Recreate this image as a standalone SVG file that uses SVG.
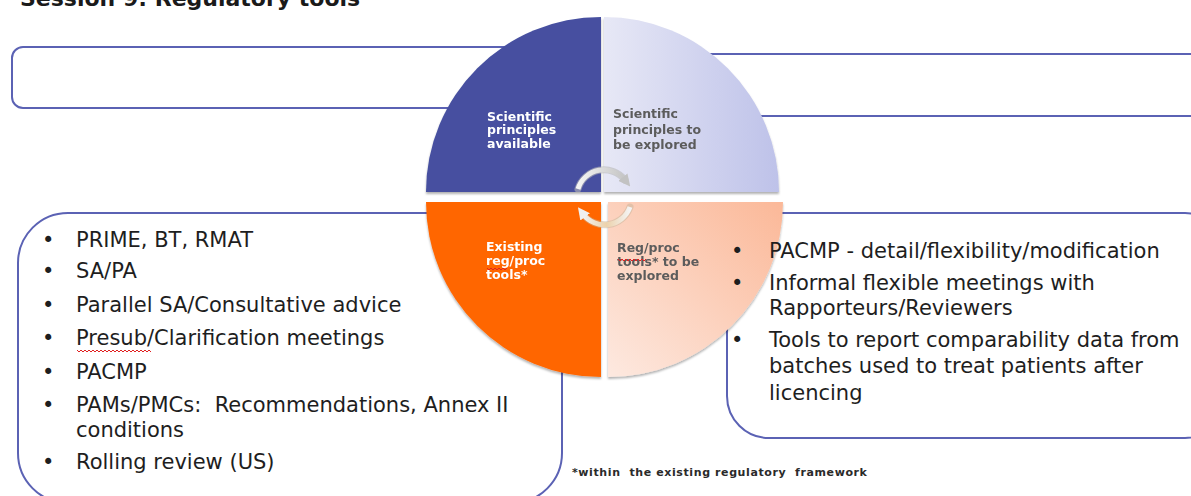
<svg xmlns="http://www.w3.org/2000/svg" width="1191" height="496" viewBox="0 0 1191 496">
  <defs>
    <style>
      .box { fill: #ffffff; stroke: #5b62b4; stroke-width: 2; }
      .title { font-family: "DejaVu Sans", Verdana, sans-serif; font-weight: bold; font-size: 22px; fill: #1a1a1a; }
      .item { font-family: "DejaVu Sans", Verdana, sans-serif; font-size: 21px; fill: #1e1e1e; white-space: pre; }
      .qlabel { font-family: "DejaVu Sans", Verdana, sans-serif; font-weight: bold; font-size: 12.5px; }
      .light { fill: #ffffff; }
      .dark { fill: #5c5c5c; }
      .note { font-family: "DejaVu Sans", Verdana, sans-serif; font-weight: bold; font-size: 11px; letter-spacing: 0.6px; fill: #2a2a2a; white-space: pre; }
      .squiggle { fill: none; stroke: #e02020; stroke-width: 1; }
    </style>
    <linearGradient id="gradBlueLight" x1="0" y1="0" x2="1" y2="0">
      <stop offset="0" stop-color="#e7e8f6"/>
      <stop offset="1" stop-color="#bec2e9"/>
    </linearGradient>
    <linearGradient id="gradPeach" x1="0" y1="1" x2="1" y2="0">
      <stop offset="0" stop-color="#fde9e0"/>
      <stop offset="1" stop-color="#fbb898"/>
    </linearGradient>
    <linearGradient id="gradArrowTop" x1="0" y1="0" x2="1" y2="0">
      <stop offset="0" stop-color="#f4f4f4"/>
      <stop offset="1" stop-color="#c4c4c4"/>
    </linearGradient>
    <linearGradient id="gradArrowBottom" x1="0" y1="0" x2="1" y2="0">
      <stop offset="0" stop-color="#f2f2f2"/>
      <stop offset="0.5" stop-color="#ecd2ac"/>
      <stop offset="1" stop-color="#f4f4f4"/>
    </linearGradient>
    <filter id="quadShadow" x="-10%" y="-10%" width="120%" height="125%">
      <feDropShadow dx="0" dy="2" stdDeviation="1.2" flood-color="#000000" flood-opacity="0.3"/>
    </filter>
    <marker id="headTop" viewBox="0 0 10 10" refX="3" refY="5" markerWidth="12" markerHeight="12" markerUnits="userSpaceOnUse" orient="auto">
      <path d="M0,0 L10,5 L0,10 Z" fill="#c2c2c2"/>
    </marker>
    <marker id="headBottom" viewBox="0 0 10 10" refX="3" refY="5" markerWidth="12" markerHeight="12" markerUnits="userSpaceOnUse" orient="auto">
      <path d="M0,0 L10,5 L0,10 Z" fill="#f0f0f0"/>
    </marker>
  </defs>

  <!-- heading -->
  <text class="title" x="20" y="6">Session 9: Regulatory  tools</text>

  <!-- upper text panels (ends tucked behind the wheel) -->
  <g id="panel-top-left">
    <rect class="box" x="12" y="47" width="575" height="61" rx="11" ry="11"/>
  </g>
  <g id="panel-top-right">
    <rect class="box" x="625" y="54" width="600" height="62" rx="11" ry="11"/>
  </g>

  <!-- lower list panels: frames -->
  <g id="panel-existing">
    <rect class="box" x="18" y="213" width="544" height="290" rx="50" ry="50"/>
    <text class="item" x="42" y="247">•</text>
    <text class="item" x="76" y="247">PRIME, BT, RMAT</text>
    <text class="item" x="42" y="278">•</text>
    <text class="item" x="76" y="278">SA/PA</text>
    <text class="item" x="42" y="312">•</text>
    <text class="item" x="76" y="312">Parallel SA/Consultative advice</text>
    <text class="item" x="42" y="345">•</text>
    <text class="item" x="76" y="345">Presub/Clarification meetings</text>
    <path class="squiggle" d="M77,350 l2,2 l2,-2 l2,2 l2,-2 l2,2 l2,-2 l2,2 l2,-2 l2,2 l2,-2 l2,2 l2,-2 l2,2 l2,-2 l2,2 l2,-2 l2,2 l2,-2 l2,2 l2,-2 l2,2 l2,-2 l2,2 l2,-2 l2,2 l2,-2 l2,2 l2,-2 l2,2 l2,-2 l2,2 l2,-2 l2,2 l2,-2 l2,2 l2,-2 l2,2"/>
    <text class="item" x="42" y="379">•</text>
    <text class="item" x="76" y="379">PACMP</text>
    <text class="item" x="42" y="412">•</text>
    <text class="item" x="76" y="412">PAMs/PMCs:  Recommendations, Annex II</text>
    <text class="item" x="76" y="437">conditions</text>
    <text class="item" x="42" y="469">•</text>
    <text class="item" x="76" y="469">Rolling review (US)</text>
  </g>

  <g id="panel-explore-frame">
    <rect class="box" x="727" y="213" width="500" height="225" rx="42" ry="42"/>
  </g>

  <!-- four-quadrant wheel -->
  <g id="quad-sci-available" filter="url(#quadShadow)">
    <path d="M601,192 L426,192 A175,175 0 0 1 601,17 Z" fill="#4650a0"/>
    <text class="qlabel light" x="487" y="121">Scientific</text>
    <text class="qlabel light" x="487" y="134">principles</text>
    <text class="qlabel light" x="487" y="148">available</text>
  </g>
  <g id="quad-sci-explore" filter="url(#quadShadow)">
    <path d="M604,192 L604,17 A175,175 0 0 1 779,192 Z" fill="url(#gradBlueLight)"/>
    <text class="qlabel dark" x="613" y="118">Scientific</text>
    <text class="qlabel dark" x="613" y="134">principles to</text>
    <text class="qlabel dark" x="613" y="149">be explored</text>
  </g>
  <g id="quad-reg-existing" filter="url(#quadShadow)">
    <path d="M601,202 L601,377 A175,175 0 0 1 426,202 Z" fill="#ff6600"/>
    <text class="qlabel light" x="486" y="251">Existing</text>
    <text class="qlabel light" x="486" y="265">reg/proc</text>
    <text class="qlabel light" x="486" y="279">tools*</text>
    <path class="squiggle" d="M487,268 l2,2 l2,-2 l2,2 l2,-2 l2,2 l2,-2 l2,2 l2,-2 l2,2 l2,-2"/>
  </g>
  <g id="quad-reg-explore" filter="url(#quadShadow)">
    <path d="M608,202 L783,202 A175,175 0 0 1 608,377 Z" fill="url(#gradPeach)"/>
    <text class="qlabel dark" x="617" y="252">Reg/proc</text>
    <text class="qlabel dark" x="617" y="266">tools* to be</text>
    <text class="qlabel dark" x="617" y="280">explored</text>
    <path class="squiggle" d="M618,259 l2,2 l2,-2 l2,2 l2,-2 l2,2 l2,-2 l2,2 l2,-2 l2,2 l2,-2 l2,2 l2,-2 l2,2 l2,-2"/>
  </g>

  <!-- list text of the right panel, printed over the wheel's edge -->
  <g id="panel-explore">
    <text class="item" x="731" y="258">•</text>
    <text class="item" x="769" y="258">PACMP - detail/flexibility/modification</text>
    <text class="item" x="731" y="290">•</text>
    <text class="item" x="769" y="290">Informal flexible meetings with</text>
    <text class="item" x="769" y="315">Rapporteurs/Reviewers</text>
    <text class="item" x="731" y="347">•</text>
    <text class="item" x="769" y="347">Tools to report comparability data from</text>
    <text class="item" x="769" y="373">batches used to treat patients after</text>
    <text class="item" x="769" y="400">licencing</text>
  </g>

  <!-- cycle arrows at the hub -->
  <g id="connectors">
    <path d="M578,189 A27,27 0 0 1 625,180" fill="none" stroke="#b8b8b8" stroke-width="7" stroke-linecap="round" opacity="0.6"/>
    <path d="M578,189 A27,27 0 0 1 625,180" fill="none" stroke="url(#gradArrowTop)" stroke-width="5" marker-end="url(#headTop)"/>
    <path d="M630,207 A27,27 0 0 1 583,214" fill="none" stroke="#c8b49a" stroke-width="7" stroke-linecap="round" opacity="0.5"/>
    <path d="M630,207 A27,27 0 0 1 583,214" fill="none" stroke="url(#gradArrowBottom)" stroke-width="5" marker-end="url(#headBottom)"/>
  </g>

  <!-- footnote -->
  <text class="note" x="572" y="476">*within  the existing regulatory  framework</text>
</svg>
